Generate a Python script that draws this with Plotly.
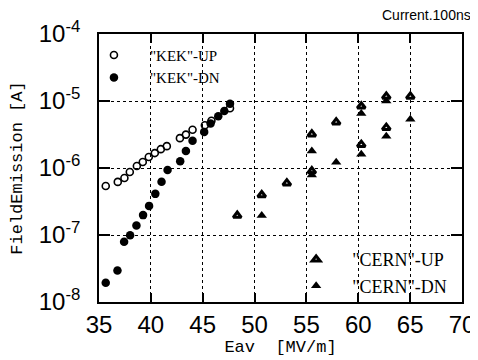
import plotly.graph_objects as go

# ---- data ----
kek_up_x = [35.65, 36.81, 37.45, 37.97, 38.65, 39.22, 39.80, 40.38, 40.96, 41.54,
            42.80, 43.38, 44.02, 45.21, 45.84, 47.63]
kek_up_y = [5.4e-7, 6.2e-7, 7.1e-7, 8.7e-7, 1.07e-6, 1.23e-6, 1.46e-6, 1.67e-6, 1.91e-6, 2.12e-6,
            2.79e-6, 3.15e-6, 3.73e-6, 4.35e-6, 5.08e-6, 7.8e-6]
kek_dn_x = [35.65, 36.78, 37.42, 38.00, 38.61, 39.25, 39.83, 40.43, 41.03, 41.61,
            42.83, 43.38, 44.02, 45.14, 45.76, 46.50, 47.08, 47.63]
kek_dn_y = [1.94e-8, 2.95e-8, 7.9e-8, 9.9e-8, 1.39e-7, 1.98e-7, 2.72e-7, 4.11e-7, 6.25e-7, 9.3e-7,
            1.26e-6, 1.79e-6, 2.55e-6, 3.46e-6, 4.61e-6, 5.93e-6, 7.1e-6, 9.1e-6]
cern_up_x = [48.33, 50.69, 53.11, 55.52, 55.52, 57.87, 60.29, 60.29, 62.70, 62.70, 65.02]
cern_up_y = [1.95e-7, 3.95e-7, 5.94e-7, 9.0e-7, 3.2e-6, 4.83e-6, 8.34e-6, 2.23e-6, 1.17e-5, 4.0e-6, 1.17e-5]
cern_dn_x = [50.69, 55.52, 55.52, 57.87, 60.29, 60.29, 62.70, 62.70, 65.02]
cern_dn_y = [1.95e-7, 7.85e-7, 1.8e-6, 1.22e-6, 6.5e-6, 1.61e-6, 1.0e-5, 2.98e-6, 5.35e-6]

x_ticks = [35, 40, 45, 50, 55, 60, 65, 70]
y_ticks = [1e-8, 1e-7, 1e-6, 1e-5, 1e-4]
y_ticktext = ["10<sup>-8</sup>", "10<sup>-7</sup>", "10<sup>-6</sup>", "10<sup>-5</sup>", "10<sup>-4</sup>"]
y_minor = [m * 10.0 ** e for e in range(-8, -4) for m in range(2, 10)]

fig = go.Figure()
fig.add_trace(go.Scatter(x=kek_up_x, y=kek_up_y, mode="markers", name='"KEK"-UP',
                         marker=dict(symbol="circle-open", size=7, color="black", line=dict(width=1.6)),
                         legend="legend"))
fig.add_trace(go.Scatter(x=kek_dn_x, y=kek_dn_y, mode="markers", name='"KEK"-DN',
                         marker=dict(symbol="circle", size=8.5, color="black"),
                         legend="legend"))
fig.add_trace(go.Scatter(x=cern_up_x, y=cern_up_y, mode="markers", name='"CERN"-UP',
                         marker=dict(symbol="triangle-up", size=7, color="white",
                                     line=dict(color="black", width=3)),
                         legend="legend2"))
fig.add_trace(go.Scatter(x=cern_dn_x, y=cern_dn_y, mode="markers", name='"CERN"-DN',
                         marker=dict(symbol="triangle-up", size=9, color="black"),
                         legend="legend2"))

axis_common = dict(showline=True, linecolor="black", linewidth=1.8, mirror="ticks",
                   ticks="inside", tickcolor="black", tickwidth=1.5,
                   showgrid=True, gridcolor="black", griddash="dot", gridwidth=1,
                   zeroline=False, automargin=True,
                   tickfont=dict(family="Liberation Sans, Arial", size=24, color="black"))

fig.update_xaxes(**axis_common, range=[35, 70], tickvals=x_ticks, ticklen=9,
                 title=dict(text="Eav\u00a0\u00a0[MV/m]", standoff=2,
                            font=dict(family="Liberation Mono, monospace", size=17, color="black")))
fig.update_yaxes(**axis_common, type="log", range=[-8, -4], tickvals=y_ticks, ticktext=y_ticktext,
                 ticklen=11, ticklabelstandoff=12,
                 title=dict(text="FieldEmission [A]", standoff=14,
                            font=dict(family="Liberation Mono, monospace", size=17, color="black")))

legend_common = dict(bgcolor="rgba(0,0,0,0)", borderwidth=0, xanchor="left", yanchor="top",
                     itemwidth=62, tracegroupgap=0)

# page body adds an 8px offset, so the figure is drawn 8px smaller
fig.update_layout(
    width=470, height=352,
    margin=dict(l=91, r=16, t=26, b=58, autoexpand=False),
    paper_bgcolor="white", plot_bgcolor="white",
    showlegend=True,
    # overlay axis only used to draw the log minor ticks on both sides
    yaxis2=dict(overlaying="y", side="left", type="log", range=[-8, -4],
                tickvals=y_minor, ticks="inside", ticklen=6, tickwidth=1.3, tickcolor="black",
                showticklabels=False, showgrid=False, zeroline=False,
                showline=True, linecolor="black", linewidth=1.8, mirror="ticks"),
    legend=dict(**legend_common, x=-0.058, y=0.982,
                font=dict(family="Liberation Serif, serif", size=15, color="black")),
    legend2=dict(**legend_common, x=0.499, y=0.227,
                 font=dict(family="Liberation Serif, serif", size=18, color="black")),
    annotations=[dict(text="Current.100ns", xref="paper", yref="paper", x=1.03, y=1.071,
                      xanchor="right", yanchor="middle", showarrow=False,
                      font=dict(family="Liberation Sans, Arial", size=14, color="black"))],
)

fig.write_html("out.html")
